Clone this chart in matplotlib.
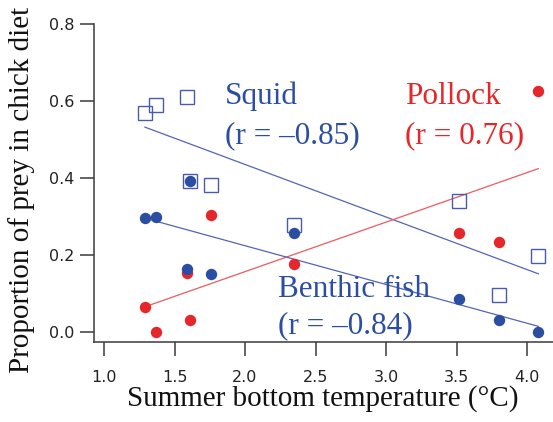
import matplotlib
matplotlib.use('Agg')  # no UI backend
import numpy as np
import matplotlib.pyplot as plt

# summer bottom temperature per year (deg C)
temperature = [1.29, 1.37, 1.59, 1.61, 1.76, 2.35, 3.52, 3.80, 4.08]
# proportion of each prey type in chick diet
squid = [0.569, 0.592, 0.612, 0.394, 0.384, 0.279, 0.342, 0.097, 0.198]
pollock = [0.065, 0.0, 0.155, 0.032, 0.306, 0.179, 0.257, 0.234, 0.627]
benthic = [0.298, 0.300, 0.166, 0.394, 0.151, 0.259, 0.088, 0.032, 0.0]

xticks = [1.0, 1.5, 2.0, 2.5, 3.0, 3.5, 4.0]
yticks = [0.0, 0.2, 0.4, 0.6, 0.8]

blue = '#2b4ea2'
blue_sq = '#4a5aad'
blue_line = '#5564b4'
red = '#e5262a'
red_line = '#ef5a5c'
serif = 'Liberation Serif'

fig = plt.figure(figsize=(5.53, 4.22), dpi=100)
ax = fig.add_axes([0.170, 0.190, 0.830, 0.752])

x = np.array(temperature)
xfit = np.array([x.min(), x.max()])

# regression lines
for ys, col in [(squid, blue_line), (pollock, red_line), (benthic, blue_line)]:
    k, b = np.polyfit(x, ys, 1)
    ax.plot(xfit, k * xfit + b, color=col, linewidth=0.9, zorder=2)

ax.plot(x, squid, linestyle='none', marker='s', markersize=10.5,
        markerfacecolor='none', markeredgecolor=blue_sq, markeredgewidth=1.0, zorder=3)
ax.plot(x, pollock, linestyle='none', marker='o', markersize=8.2,
        color=red, markeredgewidth=0, zorder=4)
ax.plot(x, benthic, linestyle='none', marker='o', markersize=8.2,
        color=blue, markeredgewidth=0, zorder=5)

# group labels with correlation coefficients
ax.text(1.858, 0.593, 'Squid', color=blue, fontsize=22.5, family=serif, va='baseline')
ax.text(1.858, 0.492, '(r = \u20130.85)', color=blue, fontsize=22.5, family=serif, va='baseline')
ax.text(3.135, 0.593, 'Pollock', color=red, fontsize=22.5, family=serif, va='baseline')
ax.text(3.135, 0.492, '(r = 0.76)', color=red, fontsize=22.5, family=serif, va='baseline')
ax.text(2.234, 0.092, 'Benthic fish', color=blue, fontsize=22.5, family=serif, va='baseline')
ax.text(2.234, -0.002, '(r = \u20130.84)', color=blue, fontsize=22.5, family=serif, va='baseline')

ax.set_xlim(0.929, 4.184)
ax.set_ylim(-0.0244, 0.8)
ax.set_xticks(xticks)
ax.set_yticks(yticks)
ax.set_xticklabels(['%.1f' % t for t in xticks])
ax.set_yticklabels(['%.1f' % t for t in yticks])

for side in ['top', 'right']:
    ax.spines[side].set_visible(False)
for side in ['left', 'bottom']:
    ax.spines[side].set_color('#3a3a3a')
    ax.spines[side].set_linewidth(1.1)

ax.tick_params(axis='x', direction='out', length=10, width=1.1, color='#3a3a3a',
               labelsize=11.5, labelcolor='#222222', pad=10)
ax.tick_params(axis='y', direction='out', length=10, width=1.1, color='#3a3a3a',
               labelsize=11.5, labelcolor='#222222', pad=4)

ax.set_xlabel('Summer bottom temperature (\u00b0C)', fontsize=21, family=serif, color='#111111')
ax.set_ylabel('Proportion of prey in chick diet', fontsize=21, family=serif, color='#111111')
ax.xaxis.set_label_coords(0.499, -0.135)
ax.yaxis.set_label_coords(-0.1285, 0.4795)

fig.savefig('out.png', dpi=100)
